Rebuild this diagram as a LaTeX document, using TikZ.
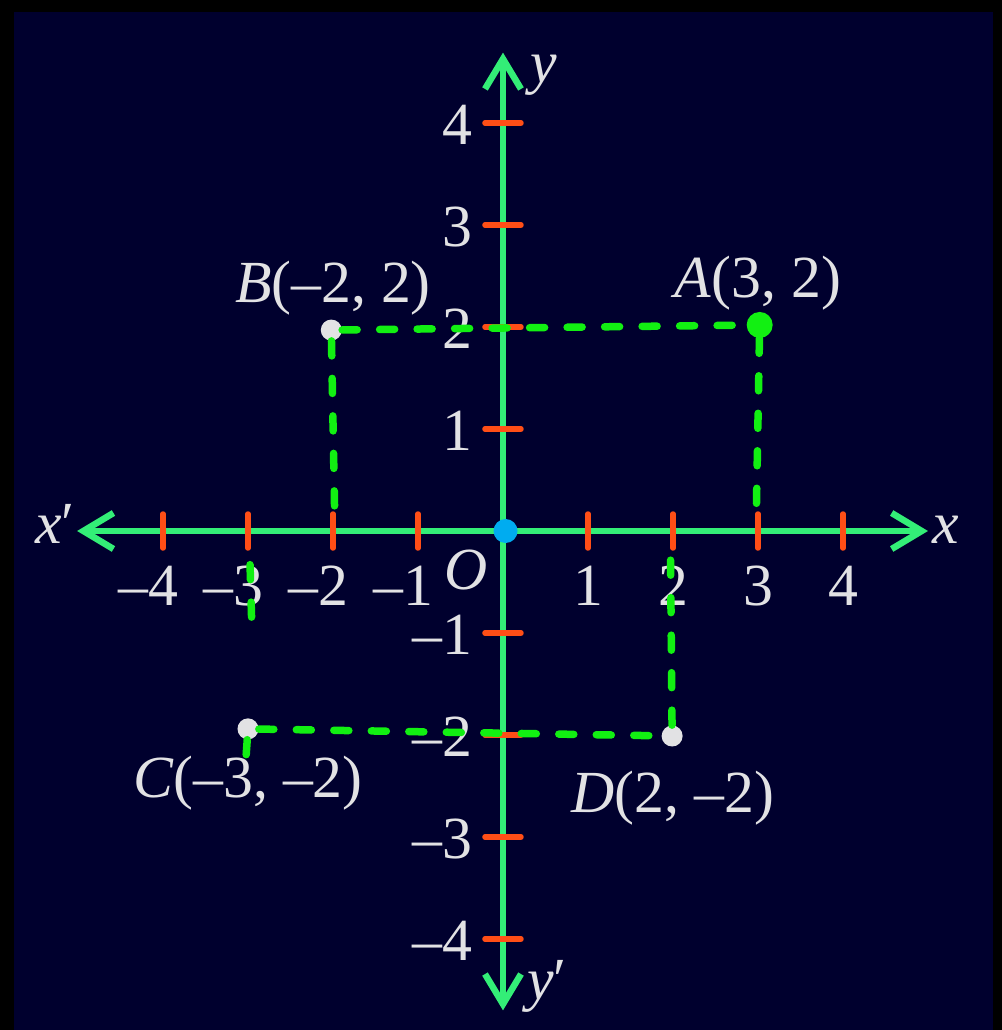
\documentclass[tikz,border=0pt]{standalone}
\usepackage{fontspec}
\setmainfont{Liberation Serif}
\usetikzlibrary{arrows.meta}

\definecolor{frameblack}{RGB}{0,0,0}
\definecolor{boardnavy}{RGB}{0,0,46}
\definecolor{axisgreen}{RGB}{51,238,119}
\definecolor{tickorange}{RGB}{255,78,22}
\definecolor{guidegreen}{RGB}{18,240,18}
\definecolor{labelgray}{RGB}{226,226,228}
\definecolor{originblue}{RGB}{0,172,240}

\begin{document}
\begin{tikzpicture}[x=1.7cm, y=2.04cm,
    axis/.style={draw=axisgreen, line width=0.13cm,
        {Straight Barb[length=0.6cm,width=0.72cm]}-{Straight Barb[length=0.6cm,width=0.72cm]}},
    tickmark/.style={draw=tickorange, line width=0.11cm, line cap=round},
    lbl/.style={text=labelgray, font=\fontsize{34}{40}\selectfont, inner sep=0pt},
    guide/.style={draw=guidegreen, line width=0.15cm, line cap=round,
        dash pattern=on 0.3cm off 0.45cm},
    pt/.style={circle, inner sep=0pt, minimum size=0.42cm, fill=labelgray}]

    % Frame and board
    \useasboundingbox (-5.9176,-4.8922) rectangle (5.8706,5.2059);
    \fill[frameblack] (-5.9176,-4.8922) rectangle (5.8706,5.2059);
    \fill[boardnavy] (-5.753,-4.8922) rectangle (5.765,5.088);

    % Axis ends
    \coordinate (xl) at (-5.01,0);
    \coordinate (xr) at (5.0,0);
    \coordinate (yt) at (0,4.69);
    \coordinate (yb) at (0,-4.70);
    \draw[axis] (xl) -- (xr);
    \draw[axis] (yb) -- (yt);

    % Tick marks and numbers
    \foreach \x in {-4,-3,-2,-1,1,2,3,4}{
        \draw[tickmark] (\x,0) +(0,-0.34cm) -- +(0,0.34cm);
        \draw[tickmark] (0,\x) +(-0.36cm,0) -- +(0.36cm,0);
    }
    \foreach \x in {1,2,3,4}{
        \node[lbl, anchor=base] (xnum\x) at (\x,-0.735) {\x};
        \node[lbl, anchor=base] (xneg\x) at (-\x,-0.735) {\llap{–}\x};
        \node[lbl, anchor=base east] (ynum\x) at (-0.36,\x-0.206) {\x};
        \node[lbl, anchor=base east] (yneg\x) at (-0.36,-\x-0.206) {–\x};
    }

    % Axis names
    \node[lbl, anchor=base] (xname) at (5.21,-0.118) {\textit{x}};
    \node[lbl, anchor=base] (xpname) at (-5.27,-0.118) {\textit{x}′};
    \node[lbl, anchor=base] (yname) at (0.48,4.40) {\textit{y}};
    \node[lbl, anchor=base] (ypname) at (0.52,-4.59) {\textit{y}′};
    \node[lbl, anchor=base] (oname) at (-0.435,-0.578) {\textit{O}};

    % Points
    \node[pt, fill=guidegreen, minimum size=0.52cm] (A) at (3.02,2.02) {};
    \node[pt] (B) at (-2.02,1.97) {};
    \node[pt] (C) at (-3.0,-1.94) {};
    \node[pt] (D) at (1.99,-2.01) {};
    \node[lbl, anchor=base] (Alabel) at (3.0,2.294) {\textit{A}(3, 2)};
    \node[lbl, anchor=base] (Blabel) at (-2.0,2.245) {\textit{B}(–2, 2)};
    \node[lbl, anchor=base] (Clabel) at (-3.0,-2.608) {\textit{C}(–3, –2)};
    \node[lbl, anchor=base] (Dlabel) at (2.0,-2.755) {\textit{D}(2, –2)};

    % Dashed guides down to the axes
    \coordinate (Afoot) at (2.98,0.16);
    \coordinate (Bfoot) at (-1.98,0.16);
    \coordinate (Cfoot) at (-3.03,-2.30);
    \coordinate (Dfoot) at (1.97,-0.16);
    \coordinate (Ctop) at (-2.976,-0.33);
    \coordinate (Cmid) at (-2.953,-0.99);
    \draw[guide] (B) -- (A);
    \draw[guide] (C) -- (D);
    \draw[guide] (B) -- (Bfoot);
    \draw[guide] (A) -- (Afoot);
    \draw[guide] (D) -- (Dfoot);
    \draw[guide] (C) -- (Cfoot);
    \draw[guide] (Ctop) -- (Cmid);

    % Origin
    \node[pt, fill=originblue, minimum size=0.48cm] (O) at (0.03,0) {};
\end{tikzpicture}
\end{document}
